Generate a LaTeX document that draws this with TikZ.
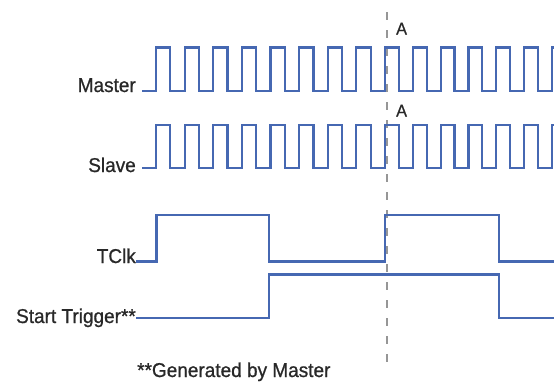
\documentclass[tikz,border=0pt]{standalone}
\usepackage{fontspec}
\setmainfont{Liberation Sans}[FakeBold=0.8, FakeStretch=0.95]
\usepackage{xcolor}
\usetikzlibrary{positioning}

\definecolor{sigblue}{RGB}{70,104,178}
\definecolor{txtgray}{RGB}{40,40,40}
\definecolor{markgray}{RGB}{150,150,150}

\begin{document}
\begin{tikzpicture}[x=1pt, y=-1pt,
  sig/.style={draw=sigblue, line width=2.2pt, line join=miter, line cap=rect},
  lbl/.style={inner sep=0pt, anchor=base east, text=txtgray, font=\fontsize{20}{20}\selectfont},
  syncline/.style={draw=markgray, line width=2.6pt, dash pattern=on 8pt off 10pt}]

\useasboundingbox (0,0) rectangle (554,381);

% Labels
\node[lbl] (master) at (136,92) {Master};
\node[lbl] (slave) at (136,172) {Slave};
\node[lbl] (tclk) at (136,263) {TClk};
\node[lbl] (trig) at (136,323) {Start Trigger**};
\node[lbl, anchor=base west] (note) at (137,377) {**Generated by Master};

% Sync point A
\coordinate (atop) at (387,12);
\coordinate (abot) at (387,366);
\draw[syncline] (atop) -- (abot);
\node[lbl, anchor=base west, font=\fontsize{17}{17}\selectfont] (a1) at (396,34.5) {A};
\node[lbl, anchor=base west, font=\fontsize{17}{17}\selectfont] (a2) at (396,116.5) {A};

% Master and slave clocks (same edges)
\coordinate (m0) at (143,91);
\coordinate (s0) at (143,168);
\draw[sig] (m0) -- (156,91);
\draw[sig] (s0) -- (156,168);
\foreach \lo/\hi in {91/47.5, 168/125} {
  \foreach \i in {0,...,7}
    \draw[sig] ({156+\i*28.625},\lo) -- ++(0,\hi-\lo) -- ++(14.31,0) -- ++(0,\lo-\hi) -- ++(14.31,0);
  \foreach \i in {0,...,5}
    \draw[sig] ({385+\i*27.8},\lo) -- ++(0,\hi-\lo) -- ++(13.9,0) -- ++(0,\lo-\hi) -- ++(13.9,0);
  \draw[sig] (551.8,\lo) -- (551.8,\hi) -- (556,\hi);
}

% TClk
\coordinate (t0) at (137,261.5);
\draw[sig] (t0) -- (156.5,261.5) -- (156.5,215) -- (269.3,215) -- (269.3,261.5)
  -- (385,261.5) -- (385,215) -- (499,215) -- (499,261.5) -- (556,261.5);

% Start trigger
\coordinate (g0) at (137,318);
\draw[sig] (g0) -- (269.3,318) -- (269.3,274.5) -- (499,274.5) -- (499,318) -- (556,318);

\end{tikzpicture}
\end{document}
